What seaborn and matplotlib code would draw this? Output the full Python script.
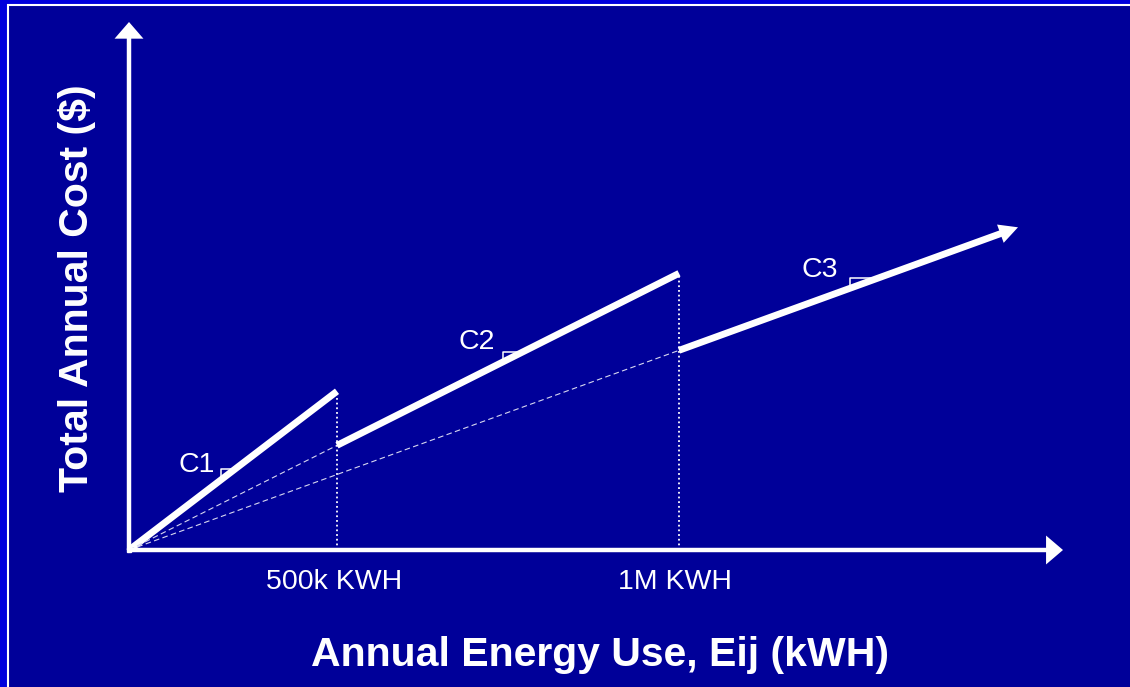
import numpy as np
import pandas as pd
import matplotlib
matplotlib.use('Agg')
import matplotlib.pyplot as plt
import seaborn as sns
from matplotlib.patches import Rectangle
from matplotlib.transforms import ScaledTranslation

sns.set_theme(style='white')
plt.rcParams['font.family'] = ['Liberation Sans', 'DejaVu Sans']

# schematic tiered pricing: energy positions (schematic units) and slope per tier
tier_names = ['C1', 'C2', 'C3']
tier_rates = [0.763, 0.503, 0.363]
break_points = [0, 2.08, 5.50, 8.89]
tick_labels = ['500k KWH', '1M KWH']
# where the little slope markers and labels sit along each tier
marker_start = [0.92, 3.74, 7.21]
marker_width = [0.14, 0.19, 0.28]
label_pos = [(0.68, 0.85), (3.48, 2.08), (6.91, 2.80)]

bg_outer = '#0000DC'
bg_inner = '#000099'

fig = plt.figure(figsize=(11.3, 6.87), dpi=100, facecolor=bg_outer)
fig.patches.append(Rectangle((8 / 1130, -0.05), 1.2, (687 - 5) / 687 + 0.05,
                             transform=fig.transFigure, facecolor=bg_inner,
                             edgecolor='white', lw=1.5, zorder=-10))

ax = fig.add_axes([129 / 1130, 137 / 687, 1000 / 1130, 550 / 687])
ax.set_facecolor('none')
ax.set_xlim(0, 10)
ax.set_ylim(0, 5.5)
for s in ax.spines.values():
    s.set_visible(False)


def head(tip, frm, length, half_width):
    # filled triangle only, no outline so the tip stays sharp
    ax.annotate('', xy=tip, xytext=frm,
                arrowprops=dict(arrowstyle=f'-|>,head_length={length},head_width={half_width}',
                                mutation_scale=1, lw=0, color='white',
                                shrinkA=0, shrinkB=0), annotation_clip=False)


# tier segments (total cost = rate * energy within each tier)
rows = []
for i, name in enumerate(tier_names):
    for e in (break_points[i], break_points[i + 1]):
        rows.append({'energy': e, 'cost': tier_rates[i] * e, 'tier': name})
df = pd.DataFrame(rows)

# stop the last tier a bit short, the arrow head finishes it
c3_end = break_points[3] - 0.12
plot_df = df.copy()
last = (plot_df['tier'] == 'C3') & (plot_df['energy'] == break_points[3])
plot_df.loc[last, 'cost'] = tier_rates[2] * c3_end
plot_df.loc[last, 'energy'] = c3_end
sns.lineplot(data=plot_df, x='energy', y='cost', units='tier',
             estimator=None, sort=False, color='white', lw=4.9, ax=ax,
             legend=False)
for l in ax.lines:
    l.set_solid_capstyle('butt')

x3 = break_points[3]
head((x3, tier_rates[2] * x3), (x3 - 1, tier_rates[2] * (x3 - 1)), 13.5, 7.0)

# thin dashed lines from origin to the start of next tier
for i in (1, 2):
    xb = break_points[i]
    ax.plot([0, xb], [0, tier_rates[i] * xb], color='#d8d8f0', lw=0.8,
            linestyle=(0, (5, 3)))

# dotted verticals at the break points
for i in (1, 2):
    xb = break_points[i]
    ax.plot([xb, xb], [0, tier_rates[i - 1] * xb], color='white', lw=1.3,
            linestyle=(0, (1, 1.6)))

# slope markers and labels
for i, name in enumerate(tier_names):
    x0 = marker_start[i]
    x1 = x0 + marker_width[i]
    r = tier_rates[i]
    ax.plot([x0, x0, x1], [r * x0, r * x1, r * x1], color='white', lw=1.1)
    ax.text(label_pos[i][0], label_pos[i][1], name, color='white',
            fontsize=20.5, ha='center', va='center')

# axes with arrows
ax.plot([0, 9.2], [0, 0], color='white', lw=3.2, solid_capstyle='butt', clip_on=False)
ax.plot([0, 0], [0, 5.15], color='white', lw=3.2, solid_capstyle='butt', clip_on=False)
ax.plot([0], [0], marker='s', ms=2.3, color='white', clip_on=False)
head((9.34, 0), (8.5, 0), 12.2, 10.4)
head((0, 5.28), (0, 4.5), 12.0, 10.4)

ax.set_xticks(break_points[1:3])
ax.set_xticklabels(tick_labels)
ax.set_yticks([])
ax.tick_params(axis='x', length=0, pad=14, labelsize=20.5, colors='white')
for lab, dx in zip(ax.get_xticklabels(), [-3, -4.5]):
    lab.set_transform(lab.get_transform() + ScaledTranslation(dx / 100, 0, fig.dpi_scale_trans))

ax.set_xlabel('Annual Energy Use, Eij (kWH)', fontsize=29.5, fontweight='bold',
              color='white', va='center')
ax.xaxis.set_label_coords(0.471, -0.191)
ax.set_ylabel('Total Annual Cost ($)', fontsize=29.5, fontweight='bold',
              color='white', va='center')
ax.yaxis.set_label_coords(-0.052, 0.476)

fig.savefig('out.png', dpi=100, facecolor=fig.get_facecolor())
